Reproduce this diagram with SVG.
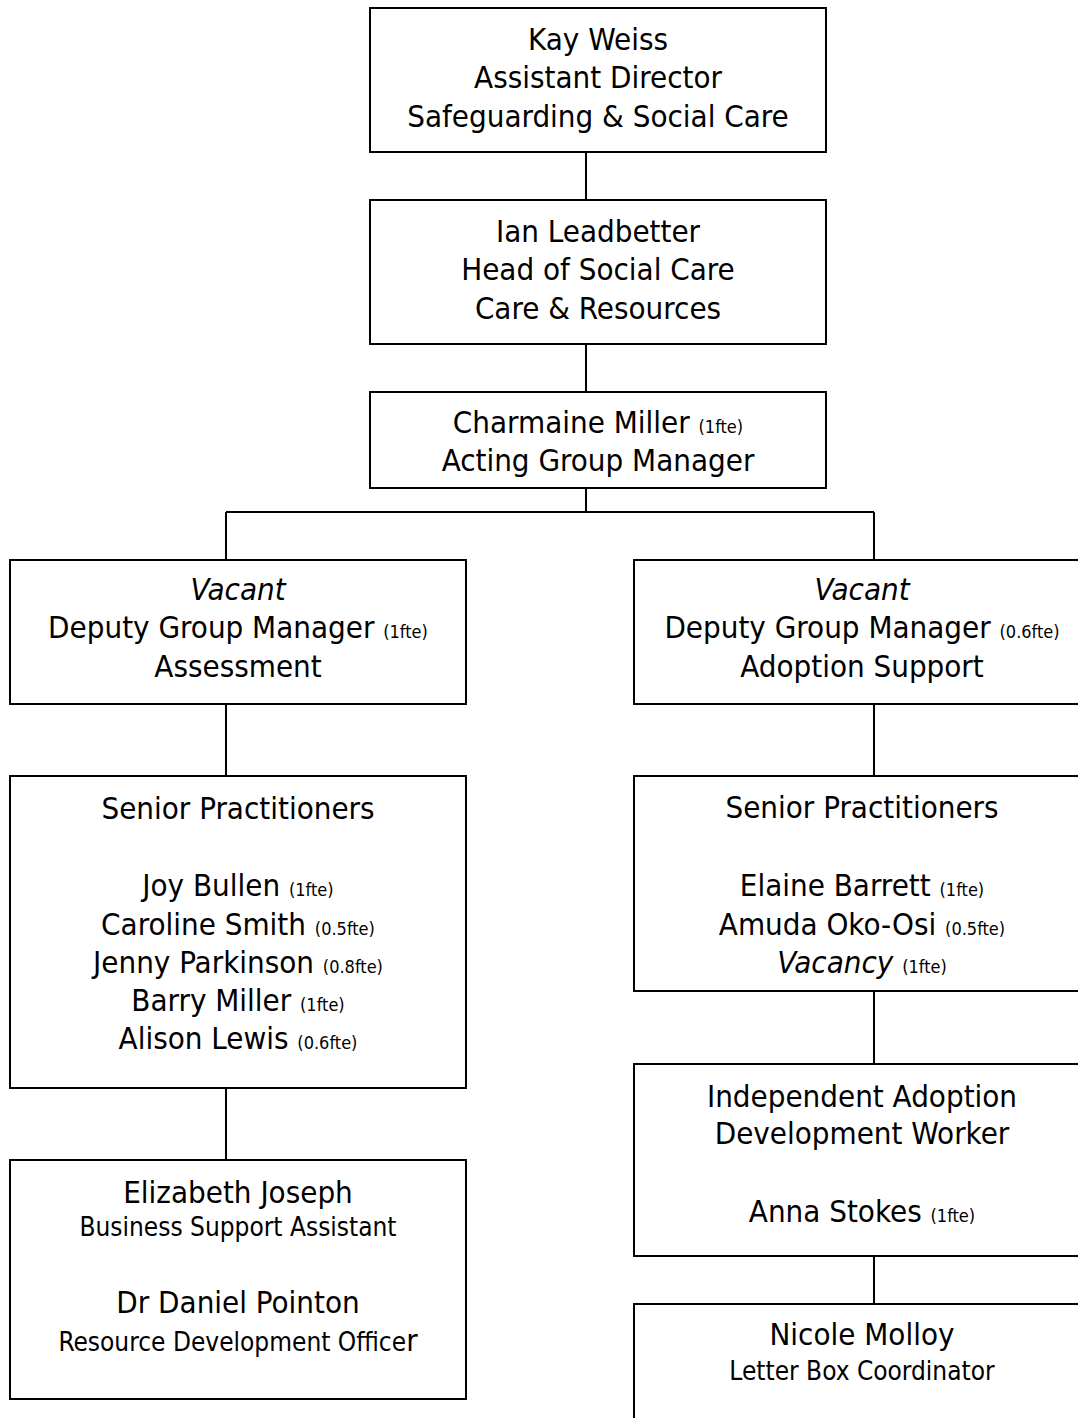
<svg xmlns="http://www.w3.org/2000/svg" width="1078" height="1418" viewBox="0 0 1078 1418">
<style>
rect.box{fill:#fff;stroke:#000;stroke-width:2}
#connectors path{fill:none;stroke:#000;stroke-width:2}
text{font-family:"DejaVu Sans Condensed","DejaVu Sans",Tahoma,sans-serif;font-stretch:condensed;font-size:31px;fill:#000;text-anchor:middle}
.s{font-size:18px}
.m{font-size:26px}
.i{font-style:italic}
</style>
<rect width="1078" height="1418" fill="#fff"/>
<g id="connectors">
<path d="M586 152V200"/>
<path d="M586 344V392"/>
<path d="M586 488V512M226 512H874M226 512V560M874 512V560"/>
<path d="M226 704V776"/>
<path d="M874 704V776"/>
<path d="M226 1088V1160"/>
<path d="M874 992V1064"/>
<path d="M874 1256V1304"/>
</g>
<g id="kay-weiss">
<rect class="box" x="370" y="8" width="456" height="144"/>
<text x="598" y="49.5">Kay Weiss</text>
<text x="598" y="88">Assistant Director</text>
<text x="598" y="126.5">Safeguarding &amp; Social Care</text>
</g>
<g id="ian-leadbetter">
<rect class="box" x="370" y="200" width="456" height="144"/>
<text x="598" y="241.5">Ian Leadbetter</text>
<text x="598" y="280">Head of Social Care</text>
<text x="598" y="318.5">Care &amp; Resources</text>
</g>
<g id="charmaine-miller">
<rect class="box" x="370" y="392" width="456" height="96"/>
<text x="598" y="433">Charmaine Miller <tspan class="s">(1fte)</tspan></text>
<text x="598" y="471">Acting Group Manager</text>
</g>
<g id="dgm-assessment">
<rect class="box" x="10" y="560" width="456" height="144"/>
<text x="238" y="600" class="i">Vacant</text>
<text x="238" y="638">Deputy Group Manager <tspan class="s">(1fte)</tspan></text>
<text x="238" y="677">Assessment</text>
</g>
<g id="dgm-adoption">
<rect class="box" x="634" y="560" width="456" height="144"/>
<text x="862" y="600" class="i">Vacant</text>
<text x="862" y="638">Deputy Group Manager <tspan class="s">(0.6fte)</tspan></text>
<text x="862" y="677">Adoption Support</text>
</g>
<g id="sp-assessment">
<rect class="box" x="10" y="776" width="456" height="312"/>
<text x="238" y="819">Senior Practitioners</text>
<text x="238" y="896">Joy Bullen <tspan class="s">(1fte)</tspan></text>
<text x="238" y="935">Caroline Smith <tspan class="s">(0.5fte)</tspan></text>
<text x="238" y="973">Jenny Parkinson <tspan class="s">(0.8fte)</tspan></text>
<text x="238" y="1011">Barry Miller <tspan class="s">(1fte)</tspan></text>
<text x="238" y="1049">Alison Lewis <tspan class="s">(0.6fte)</tspan></text>
</g>
<g id="sp-adoption">
<rect class="box" x="634" y="776" width="456" height="215"/>
<text x="862" y="818">Senior Practitioners</text>
<text x="862" y="896">Elaine Barrett <tspan class="s">(1fte)</tspan></text>
<text x="862" y="935">Amuda Oko-Osi <tspan class="s">(0.5fte)</tspan></text>
<text x="862" y="973"><tspan class="i">Vacancy</tspan> <tspan class="s">(1fte)</tspan></text>
</g>
<g id="support-staff">
<rect class="box" x="10" y="1160" width="456" height="239"/>
<text x="238" y="1203">Elizabeth Joseph</text>
<text x="238" y="1236" class="m">Business Support Assistant</text>
<text x="238" y="1313">Dr Daniel Pointon</text>
<text x="238" y="1351"><tspan class="m">Resource Development Office</tspan>r</text>
</g>
<g id="independent-adoption">
<rect class="box" x="634" y="1064" width="456" height="192"/>
<text x="862" y="1107">Independent Adoption</text>
<text x="862" y="1144">Development Worker</text>
<text x="862" y="1222">Anna Stokes <tspan class="s">(1fte)</tspan></text>
</g>
<g id="nicole-molloy">
<rect class="box" x="634" y="1304" width="456" height="130"/>
<text x="862" y="1345">Nicole Molloy</text>
<text x="862" y="1380" class="m">Letter Box Coordinator</text>
</g>
</svg>
